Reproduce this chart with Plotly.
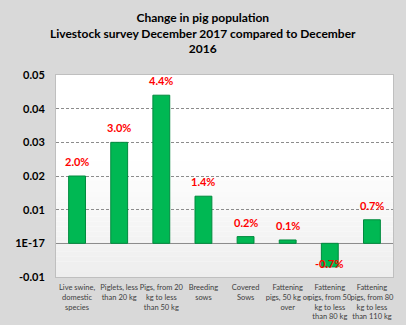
import plotly.graph_objects as go

categories = [
    "Live swine,<br>domestic<br>species",
    "Piglets, less<br>than 20 kg",
    "Pigs, from 20<br>kg to less<br>than 50 kg",
    "Breeding<br>sows",
    "Covered<br>Sows",
    "Fattening<br>pigs, 50 kg or<br>over",
    "Fattening<br>pigs, from 50<br>kg to less<br>than 80 kg",
    "Fattening<br>pigs, from 80<br>kg to less<br>than 110 kg",
]
values = [0.020, 0.030, 0.044, 0.014, 0.002, 0.001, -0.007, 0.007]
labels = ["2.0%", "3.0%", "4.4%", "1.4%", "0.2%", "0.1%", "-0.7%", "0.7%"]
ytick_vals = [-0.01, 0.0, 0.01, 0.02, 0.03, 0.04, 0.05]
ytick_text = ["-0.01", "1E-17", "0.01", "0.02", "0.03", "0.04", "0.05"]

FONT = "Lato"

fig = go.Figure()
fig.add_trace(go.Bar(
    x=categories, y=values,
    width=0.4,
    marker=dict(color="#00b853", line=dict(color="#008a3e", width=1)),
    hoverinfo="skip",
))

annotations = []
for c, v, t in zip(categories, values, labels):
    if v >= 0:
        annotations.append(dict(x=c, y=v, text=t, showarrow=False, yanchor="bottom", yshift=6,
                                font=dict(family=FONT, size=11, color="#ff0000", weight="bold")))
    else:
        annotations.append(dict(x=c, y=v, text=t, showarrow=False, yanchor="middle", yshift=3,
                                font=dict(family=FONT, size=11, color="#ff0000", weight="bold")))

# title as annotation (centered on full figure width)
annotations.append(dict(
    text="Change in pig population<br>Livestock survey December 2017 compared to December<br>2016",
    xref="paper", yref="paper", x=(203 - 56) / 337, y=1 + (75 - 8) / 202,
    xanchor="center", yanchor="top", showarrow=False, align="center",
    font=dict(family=FONT, size=12, color="#000000", weight="bold"),
))

# subtle vertical gradient in plot background
shapes = []
n = 24
for i in range(n):
    y0 = i / n * 0.6
    y1 = (i + 1) / n * 0.6
    g = int(round(0xee + (0xff - 0xee) * (i / (n - 1))))
    shapes.append(dict(type="rect", xref="x domain", yref="y domain", x0=0, x1=1, y0=y0, y1=y1,
                       fillcolor=f"rgb({g},{g},{g})", line=dict(width=0), layer="below"))

fig.update_layout(
    width=406, height=325,
    margin=dict(l=56, r=13, t=75, b=48),
    paper_bgcolor="#d9d9d9",
    plot_bgcolor="#ffffff",
    showlegend=False,
    bargap=0.6,
    annotations=annotations,
    shapes=shapes,
)
fig.update_xaxes(
    automargin=False,
    tickfont=dict(family=FONT, size=7.5, color="#404040"),
    showline=True, linecolor="#bfbfbf", mirror=True,
    ticks="outside", ticklen=3, tickcolor="rgba(0,0,0,0)", tickangle=0,
)
fig.update_yaxes(
    automargin=False,
    range=[-0.01, 0.05],
    tickvals=ytick_vals, ticktext=ytick_text,
    tickfont=dict(family=FONT, size=11, color="#000000", weight="bold"),
    showgrid=True, gridcolor="#8c8c8c", griddash="3px,2px", gridwidth=1,
    zeroline=True, zerolinecolor="#8c8c8c", zerolinewidth=1,
    showline=True, linecolor="#bfbfbf", mirror=True,
    ticks="outside", ticklen=8, tickcolor="rgba(0,0,0,0)",
)
fig.write_html("out.html", config={"displayModeBar": False},
               post_script="document.body.style.margin='0px';document.body.style.overflow='hidden';")
